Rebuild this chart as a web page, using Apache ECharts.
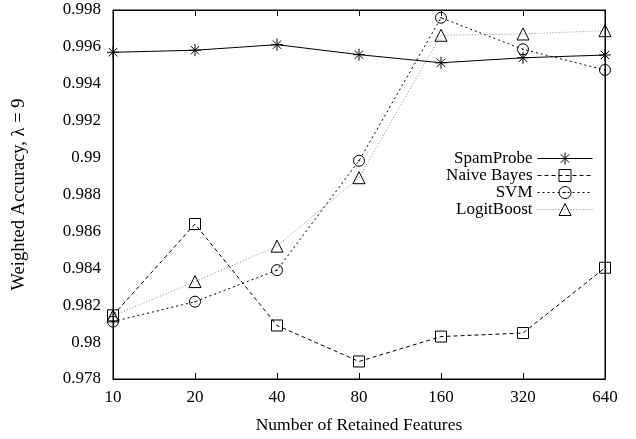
<!DOCTYPE html>
<html>
<head>
<meta charset="utf-8">
<script src="https://cdn.jsdelivr.net/npm/echarts@6/dist/echarts.min.js"></script>
<style>
  html, body { margin: 0; padding: 0; background: #fff; }
  #main { width: 636px; height: 439px; }
</style>
</head>
<body>
<div id="main"></div>
<script>
// retained features (log scale, equal spacing)
var features = ['10', '20', '40', '80', '160', '320', '640'];

var spamProbe  = [0.99571, 0.99582, 0.99612, 0.99558, 0.99514, 0.99541, 0.99556];
var naiveBayes = [0.98145, 0.98640, 0.98090, 0.97895, 0.98030, 0.98049, 0.98403];
var svm        = [0.98111, 0.98219, 0.98390, 0.98983, 0.99758, 0.99587, 0.99475];
var logitBoost = [0.98142, 0.98328, 0.98520, 0.98891, 0.99663, 0.99670, 0.99688];

var yMin = 0.978, yMax = 0.998, yStep = 0.002;

var FONT = '"Liberation Serif", "DejaVu Serif", serif';

// gnuplot-like point types
var starSym   = 'path://M0,-10L0,10M-10,0L10,0M-7,-7L7,7M-7,7L7,-7';
var boxSym    = 'path://M-10,-10L10,-10L10,10L-10,10Z';
var circleSym = 'path://M0,-10A10,10,0,1,1,0,10A10,10,0,1,1,0,-10ZM0,-0.8A0.8,0.8,0,1,1,0,0.8A0.8,0.8,0,1,1,0,-0.8Z';
var triSym    = 'path://M0,-10L10,8L-10,8Z';

function mkSeries(name, data, sym, size, color, type) {
    return {
        name: name,
        type: 'line',
        data: data,
        symbol: sym,
        symbolSize: size,
        showAllSymbol: true,
        animation: false,
        itemStyle: { color: 'transparent', borderColor: '#000', borderWidth: 1 },
        lineStyle: { color: color, width: 1, type: type }
    };
}

var myChart = echarts.init(document.getElementById('main'));
var option = {
    backgroundColor: '#fff',
    animation: false,
    grid: { left: 113, right: 31, top: 10, bottom: 60, show: true, borderColor: '#000', borderWidth: 1 },
    legend: {
        orient: 'vertical',
        right: 38,
        top: 145,
        align: 'right',
        itemWidth: 55,
        itemHeight: 15,
        itemGap: 0,
        itemStyle: { borderWidth: 1 },
        lineStyle: { width: 1 },
        textStyle: { fontFamily: FONT, fontSize: 17, color: '#000', lineHeight: 17 },
        data: ['SpamProbe', 'Naive Bayes', 'SVM', 'LogitBoost']
    },
    xAxis: [{
        type: 'category',
        data: features,
        boundaryGap: false,
        name: 'Number of Retained Features',
        nameLocation: 'middle',
        nameGap: 37,
        nameTextStyle: { fontFamily: FONT, fontSize: 17.5, color: '#000' },
        axisLine: { lineStyle: { color: '#000' } },
        axisTick: { inside: true, length: 6, lineStyle: { color: '#000' } },
        axisLabel: { fontFamily: FONT, fontSize: 17, color: '#000', margin: 10 },
        splitLine: { show: false }
    }, {
        type: 'category',
        data: features,
        boundaryGap: false,
        position: 'top',
        axisLine: { lineStyle: { color: '#000' } },
        axisTick: { inside: true, length: 6, lineStyle: { color: '#000' } },
        axisLabel: { show: false }
    }],
    yAxis: [{
        type: 'value',
        min: yMin,
        max: yMax,
        interval: yStep,
        name: 'Weighted Accuracy, \u03bb = 9',
        nameLocation: 'middle',
        nameGap: 84,
        nameTextStyle: { fontFamily: FONT, fontSize: 18.5, color: '#000' },
        axisLine: { show: true, lineStyle: { color: '#000' } },
        axisTick: { inside: true, length: 6, lineStyle: { color: '#000' } },
        axisLabel: {
            fontFamily: FONT, fontSize: 17, color: '#000', margin: 12,
            formatter: function (v) { return String(parseFloat(v.toFixed(3))); }
        },
        splitLine: { show: false }
    }, {
        type: 'value',
        min: yMin,
        max: yMax,
        interval: yStep,
        position: 'right',
        axisLine: { show: true, lineStyle: { color: '#000' } },
        axisTick: { inside: true, length: 6, lineStyle: { color: '#000' } },
        axisLabel: { show: false },
        splitLine: { show: false }
    }],
    series: [
        mkSeries('SpamProbe', spamProbe, starSym, 12, '#000', 'solid'),
        mkSeries('Naive Bayes', naiveBayes, boxSym, 11, '#000', [4, 3]),
        mkSeries('SVM', svm, circleSym, 11, '#000', [2, 3]),
        mkSeries('LogitBoost', logitBoost, triSym, 12, '#888', [1, 2])
    ]
};
myChart.setOption(option);
</script>
</body>
</html>
